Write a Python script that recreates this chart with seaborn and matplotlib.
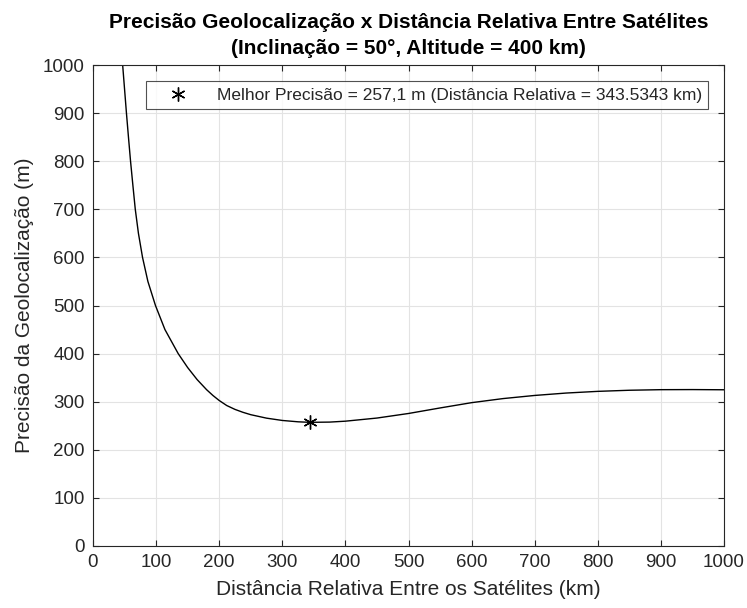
import numpy as np
import pandas as pd
import matplotlib
matplotlib.use("Agg")
import matplotlib.pyplot as plt
import seaborn as sns

# Values (distance in km, precision in m)
distancia_km = [47, 50, 53, 56.2, 59.5, 63.2, 67, 72, 78.5, 87, 99, 114, 135, 150,
                165, 180, 190, 200, 212, 225, 237.5, 250, 275, 300, 325, 343.5,
                375, 400, 450, 500, 550, 600, 650, 700, 750, 800, 850, 900, 950, 1000]
precisao_m = [1000, 950, 900, 850, 800, 750, 700, 650, 600, 550, 500, 450, 400, 371,
              346, 325, 313, 302.5, 292, 284, 278, 273, 265.8, 261, 258.2, 257.1,
              257.6, 259.5, 266, 275.5, 287, 298, 306.5, 313, 318, 321.5, 323.8, 325, 325.2, 324.8]

melhor_x = [343.5343]
melhor_y = [257.1]
legenda = "Melhor Precisão = 257,1 m (Distância Relativa = 343.5343 km)"

sns.set_theme(style="whitegrid")
plt.rcParams['font.family'] = ['Liberation Sans', 'DejaVu Sans']

df = pd.DataFrame({'dist': distancia_km, 'prec': precisao_m})
best = pd.DataFrame({'dist': melhor_x, 'prec': melhor_y})

fig = plt.figure(figsize=(7.47, 6.08), dpi=100)
ax = fig.add_axes([93 / 747, 62 / 608, 631 / 747, 481 / 608])
ax.set_facecolor('white')

sns.lineplot(data=df, x='dist', y='prec', ax=ax, color='black', linewidth=1.0)
ax.plot(best['dist'], best['prec'], linestyle='none', marker=(6, 2, 0),
        markersize=10, color='black', markeredgewidth=1.0, label=legenda)

ax.set_xlim(0, 1000)
ax.set_ylim(0, 1000)
ax.set_xticks(np.arange(0, 1001, 100))
ax.set_yticks(np.arange(0, 1001, 100))
ax.grid(True, color='#e3e3e3', linewidth=0.8)
for s in ax.spines.values():
    s.set_color('#262626')
    s.set_linewidth(0.8)
ax.tick_params(direction='in', length=4, width=0.8, colors='#262626',
               labelsize=13.5, top=True, right=True, bottom=True, left=True, pad=6)

ax.set_xlabel('Distância Relativa Entre os Satélites (km)', fontsize=15, color='#262626', labelpad=6)
ax.set_ylabel('Precisão da Geolocalização (m)', fontsize=15, color='#262626', labelpad=6)
ax.set_title('Precisão Geolocalização x Distância Relativa Entre Satélites\n(Inclinação = 50°, Altitude = 400 km)',
             fontsize=15, fontweight='bold', color='black', pad=8, linespacing=1.45)

leg = ax.legend(loc='upper right', bbox_to_anchor=(0.975, 0.967), fontsize=12.5,
                frameon=True, fancybox=False, borderpad=0.38, handletextpad=0.7,
                handlelength=3.0, borderaxespad=0)
leg.get_frame().set_edgecolor('#262626')
leg.get_frame().set_linewidth(0.8)

fig.savefig('out.png', dpi=100)
